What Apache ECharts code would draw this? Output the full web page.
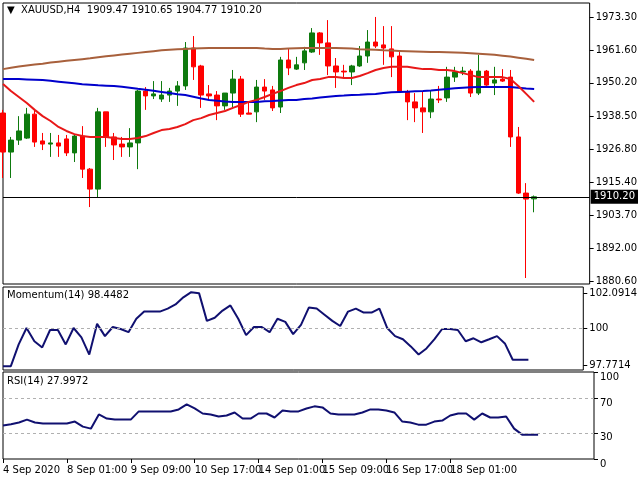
<!DOCTYPE html>
<html><head><meta charset="utf-8">
<script src="https://cdn.jsdelivr.net/npm/echarts@6/dist/echarts.min.js"></script>
<style>html,body{margin:0;padding:0;background:#fff}#c{width:640px;height:480px}</style>
</head><body><div id="c"></div>
<script>
const opens=[1939.6,1925.9,1930.1,1930.8,1939.2,1929.8,1928.7,1929.1,1930.5,1925.6,1931.5,1919.9,1912.9,1940.0,1931.2,1928.7,1927.7,1929.1,1947.3,1945.6,1944.5,1945.9,1947.3,1949.1,1962.4,1956.1,1946.3,1945.9,1942.1,1946.6,1951.5,1939.6,1940.0,1948.7,1947.7,1941.7,1958.2,1955.0,1957.2,1961.0,1967.7,1964.2,1956.1,1954.3,1954.0,1956.1,1959.6,1964.5,1963.5,1962.1,1959.6,1947.0,1943.5,1941.4,1940.0,1944.5,1944.9,1952.2,1954.0,1954.3,1946.6,1954.3,1950.1,1951.5,1952.2,1931.2,1911.5,1909.47];
const closes=[1925.9,1930.1,1933.3,1939.2,1929.4,1928.7,1929.1,1928.0,1925.6,1931.5,1919.9,1912.9,1940.0,1931.2,1928.4,1927.7,1929.1,1947.3,1945.6,1946.3,1945.9,1947.3,1949.1,1962.4,1955.8,1945.9,1945.6,1942.1,1946.6,1951.5,1939.2,1939.2,1948.7,1947.3,1941.4,1958.2,1955.4,1956.5,1961.4,1967.7,1964.2,1956.1,1954.0,1954.0,1956.1,1959.6,1964.5,1963.1,1962.4,1959.3,1947.0,1943.5,1941.4,1940.0,1944.5,1944.2,1952.2,1954.0,1954.3,1946.6,1954.3,1949.4,1951.2,1950.8,1931.2,1911.5,1909.4,1910.20];
const lows=[1916.8,1916.8,1928.4,1930.5,1927.7,1926.6,1924.2,1924.2,1924.5,1922.4,1916.8,1906.6,1910.1,1927.7,1923.1,1924.2,1924.2,1919.9,1940.7,1944.5,1943.5,1943.5,1942.1,1947.7,1951.2,1941.4,1944.2,1937.1,1940.7,1941.7,1938.2,1939.2,1936.4,1944.2,1940.3,1939.6,1952.9,1954.7,1954.7,1960.7,1960.0,1952.9,1948.4,1951.9,1949.4,1955.8,1957.2,1962.4,1956.5,1952.2,1946.6,1937.1,1936.4,1932.6,1937.8,1943.1,1943.5,1950.5,1952.9,1945.2,1945.9,1949.1,1945.9,1950.5,1927.7,1911.2,1881.7,1904.77];
const highs=[1940.7,1931.2,1938.5,1941.4,1940.7,1932.6,1932.6,1931.9,1931.9,1931.9,1935.0,1920.3,1941.4,1940.0,1932.6,1931.2,1934.3,1947.7,1948.7,1950.8,1950.8,1948.4,1950.8,1964.5,1966.6,1956.5,1949.4,1947.3,1946.6,1954.7,1952.6,1943.1,1951.2,1951.5,1949.1,1959.3,1962.1,1959.3,1962.8,1969.4,1968.0,1972.2,1958.9,1956.5,1956.5,1963.1,1968.7,1973.3,1970.1,1970.1,1961.0,1947.7,1946.6,1947.0,1947.7,1949.1,1955.8,1955.8,1955.8,1955.0,1960.0,1954.7,1955.8,1955.0,1954.7,1934.7,1915.0,1910.65];
const maFast=[1949.8,1947.3,1945.2,1943.1,1940.7,1938.5,1936.8,1934.7,1933.3,1932.2,1931.5,1931.2,1931.2,1931.2,1930.8,1930.5,1930.5,1930.8,1931.5,1932.6,1933.6,1934.0,1934.7,1935.7,1937.1,1937.8,1938.9,1939.6,1940.3,1941.4,1942.4,1943.5,1944.2,1945.2,1946.3,1947.3,1948.4,1949.4,1950.1,1951.2,1951.5,1952.2,1952.2,1951.9,1951.9,1952.6,1953.6,1954.7,1955.4,1955.8,1955.8,1955.8,1955.4,1955.0,1955.0,1954.7,1954.7,1954.3,1953.6,1952.9,1952.2,1952.2,1952.2,1952.2,1951.5,1949.1,1946.3,1943.5];
const maMid=[1951.5,1951.5,1951.5,1951.4,1951.3,1951.2,1950.9,1950.6,1950.3,1950.0,1949.7,1949.5,1949.3,1949.2,1949.1,1948.8,1948.5,1948.1,1947.8,1947.4,1947.0,1946.6,1946.2,1945.9,1945.3,1944.7,1944.2,1943.9,1943.6,1943.5,1943.5,1943.5,1943.5,1943.7,1943.8,1944.0,1944.2,1944.2,1944.5,1944.7,1945.0,1945.3,1945.6,1945.7,1945.9,1946.0,1946.2,1946.3,1946.6,1946.9,1947.0,1947.1,1947.2,1947.3,1947.5,1947.8,1948.0,1948.3,1948.5,1948.6,1948.7,1948.7,1948.7,1948.7,1948.7,1948.5,1948.2,1948.0];
const maSlow=[1955.0,1955.5,1955.9,1956.3,1956.6,1956.9,1957.3,1957.6,1957.9,1958.2,1958.5,1958.8,1959.2,1959.5,1959.8,1960.1,1960.4,1960.7,1961.0,1961.3,1961.6,1961.8,1962.0,1962.1,1962.2,1962.3,1962.4,1962.4,1962.4,1962.4,1962.4,1962.4,1962.4,1962.2,1962.1,1962.1,1962.2,1962.3,1962.4,1962.4,1962.4,1962.4,1962.4,1962.3,1962.2,1962.0,1961.9,1961.8,1961.6,1961.5,1961.4,1961.3,1961.2,1961.1,1961.0,1961.0,1960.9,1960.8,1960.7,1960.6,1960.4,1960.2,1960.0,1959.7,1959.4,1959.0,1958.6,1958.2];
const momentum=[97.70,97.70,99.01,100.0,99.20,98.83,99.88,99.88,99.01,100.0,99.44,98.40,100.25,99.51,100.06,99.94,99.75,100.56,100.99,100.99,100.99,101.17,101.42,101.85,102.16,102.10,100.43,100.62,101.05,101.36,100.56,99.57,100.06,100.06,99.75,100.56,100.37,99.63,100.19,101.23,101.17,100.80,100.43,100.12,100.99,101.17,100.93,100.93,101.17,100.0,99.51,99.32,98.89,98.40,98.77,99.32,99.94,99.94,99.88,99.20,99.38,99.14,99.32,99.51,99.07,98.09,98.09,98.09];
const rsi=[38.4,40,41.9,45.3,41.9,40.7,40.7,40.7,40.7,43.0,37.2,34.9,51.2,46.5,45.3,45.3,45.3,54.7,54.7,54.7,54.7,54.7,57.0,62.8,58.1,52.3,51.2,48.8,50.0,53.5,46.5,46.5,52.3,52.3,47.7,55.8,54.7,54.7,58.1,60.5,59.3,52.3,51.2,51.2,51.2,53.5,57.0,57.0,55.8,53.5,43.0,41.9,39.5,39.5,43.0,44.2,50.0,52.3,52.3,45.3,52.3,47.7,47.7,48.8,34.9,28,28,28];
const timeLabels=['4 Sep 2020','8 Sep 01:00','9 Sep 09:00','10 Sep 17:00','14 Sep 01:00','15 Sep 09:00','16 Sep 17:00','18 Sep 01:00','21 Sep 09:00'];
const priceTicks=[1880.6,1892.0,1903.7,1915.4,1926.8,1938.5,1950.2,1961.6,1973.3];
const momTicks=[97.7714,100,102.0914];
const rsiTicks=[0,30,70,100];
const lastPrice=1910.20;

const N=75;
const cats=[];for(let i=0;i<N;i++)cats.push(i%8===0&&timeLabels[i/8]?timeLabels[i/8]:'c'+i);
const candles=opens.map((o,i)=>[o,closes[i],lows[i],highs[i]]);
const font='DejaVu Sans';
const fs=10;
const grids=[{left:3,width:591,top:3,height:281},{left:3,width:591,top:287,height:83},{left:3,width:591,top:372,height:87}];
grids.forEach(g=>{g.show=true;g.borderColor='#000';g.borderWidth=1;g.backgroundColor='#fff';});
const showIdx=(i)=>i%8===0&&i<=64;
const xAxes=[0,1,2].map(k=>({type:'category',gridIndex:k,data:cats,boundaryGap:false,
 axisLine:{show:false},splitLine:{show:false},
 axisTick:{show:k===2,interval:(i)=>showIdx(i),length:4,lineStyle:{color:'#000'}},
 axisLabel:{show:k===2,interval:(i)=>showIdx(i),hideOverlap:false,showMaxLabel:false,align:'left',margin:6,fontFamily:font,fontSize:fs,color:'#000',formatter:v=>v.startsWith('c')?'':v}}));
const yBase={position:'right',axisLine:{show:false},splitLine:{show:false},axisTick:{show:true,length:4,lineStyle:{color:'#000'}},axisLabel:{fontFamily:font,fontSize:fs,color:'#000',margin:6}};
const yAxes=[
 Object.assign({},yBase,{gridIndex:0,min:1879.6,max:1978.2,axisLabel:Object.assign({},yBase.axisLabel,{customValues:priceTicks,formatter:v=>v.toFixed(2)}),axisTick:Object.assign({},yBase.axisTick,{customValues:priceTicks})}),
 Object.assign({},yBase,{gridIndex:1,min:97.47,max:102.47,axisLabel:Object.assign({},yBase.axisLabel,{customValues:momTicks,formatter:v=>String(v)}),axisTick:Object.assign({},yBase.axisTick,{customValues:momTicks})}),
 Object.assign({},yBase,{gridIndex:2,min:0,max:100,axisLabel:Object.assign({},yBase.axisLabel,{customValues:rsiTicks,verticalAlign:'top'}),axisTick:Object.assign({},yBase.axisTick,{customValues:rsiTicks})})
];
const line=(data,color,xi,w)=>({type:'line',xAxisIndex:xi,yAxisIndex:xi,data:data,symbol:'none',smooth:false,lineStyle:{color:color,width:w},z:xi===0?3:2,silent:true});
const dashed=(vals)=>({silent:true,symbol:'none',label:{show:false},lineStyle:{color:'#b0b0b0',type:[3,3],width:1},data:vals.map(v=>({yAxis:v}))});
const option={animation:false,grid:grids,xAxis:xAxes,yAxis:yAxes,
 series:[
  {type:'candlestick',xAxisIndex:0,yAxisIndex:0,data:candles,barWidth:5,z:2,
   itemStyle:{color:'#0e7a0e',color0:'#ff0000',borderColor:'#0e7a0e',borderColor0:'#ff0000',borderWidth:1},
   markLine:{silent:true,symbol:'none',lineStyle:{color:'#000',type:'solid',width:1},
     label:{position:'end',formatter:()=>lastPrice.toFixed(2),backgroundColor:'#000',color:'#fff',fontFamily:font,fontSize:fs,padding:[2,3],distance:1},
     data:[{yAxis:lastPrice}]}},
  line(maSlow,'#a8603c',0,2),
  line(maMid,'#0000cc',0,2),
  line(maFast,'#e81818',0,2),
  Object.assign(line(momentum,'#101070',1,2),{markLine:dashed([100])}),
  Object.assign(line(rsi,'#101070',2,2),{markLine:dashed([30,70])})
 ],
 graphic:[
  {type:'text',left:7,top:5,style:{text:'▼  XAUUSD,H4  1909.47 1910.65 1904.77 1910.20',font:fs+'px '+font,fill:'#000'},z:10},
  {type:'text',left:7,top:290,style:{text:'Momentum(14) 98.4482',font:fs+'px '+font,fill:'#000'},z:10},
  {type:'text',left:7,top:376,style:{text:'RSI(14) 27.9972',font:fs+'px '+font,fill:'#000'},z:10}
 ]};
echarts.init(document.getElementById('c')).setOption(option);
</script></body></html>
